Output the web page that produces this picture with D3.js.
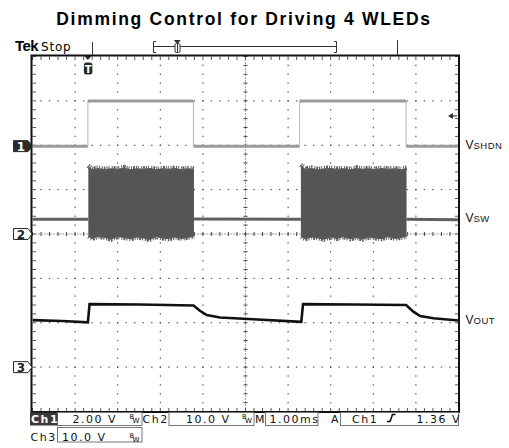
<!DOCTYPE html>
<html>
<head>
<meta charset="utf-8">
<script src="https://cdn.jsdelivr.net/npm/d3@7"></script>
<style>
  body { margin: 0; background: #fff; }
  svg text { font-family: "DejaVu Sans", sans-serif; }
</style>
</head>
<body>
<svg id="chart" width="509" height="448"></svg>
<script>
// time is in ms from the left edge of the screen (1.00 ms/div)
var shdnTime  = [0, 1.30, 1.30, 3.78, 3.78, 6.27, 6.27, 8.77, 8.77, 10];
var shdnVolts = [0, 0, 2.04, 2.04, 0, 0, 2.04, 2.04, 0, 0];

// Vsw when the converter is idle (null = gap)
var swIdleTime  = [0, 1.31, null, 3.79, 6.30, null, 8.78, 10];
var swIdleVolts = [3.3, 3.3, null, 3.4, 3.3, null, 3.3, 3.2];

// switching bursts, envelope of the waveform
var burst1Time = [1.31, 1.40, 1.55, 1.70, 1.85, 2.00, 2.15, 2.30, 2.45, 2.60, 2.75, 2.90, 3.05, 3.20, 3.35, 3.50, 3.65, 3.79];
var burst1High = [15.4, 14.6, 14.9, 14.6, 14.8, 14.7, 15.0, 14.6, 14.8, 14.7, 14.9, 14.6, 14.8, 14.7, 14.9, 14.6, 14.8, 14.7];
var burst1Low  = [-0.6, -1.1, -0.7, -0.9, -1.3, -0.7, -0.9, -1.2, -0.8, -1.0, -1.4, -0.7, -1.0, -1.2, -0.8, -1.1, -0.9, -0.6];
var burst2Time = [6.30, 6.40, 6.55, 6.70, 6.85, 7.00, 7.15, 7.30, 7.45, 7.60, 7.75, 7.90, 8.05, 8.20, 8.35, 8.50, 8.65, 8.78];
var burst2High = [15.6, 14.7, 14.9, 14.6, 14.8, 14.9, 14.7, 14.8, 14.6, 14.9, 14.7, 14.8, 14.6, 14.9, 14.7, 14.8, 14.6, 14.9];
var burst2Low  = [-0.7, -1.2, -0.8, -1.0, -1.3, -0.8, -1.1, -0.7, -1.2, -0.9, -1.3, -0.8, -1.0, -1.2, -0.7, -1.1, -0.9, -0.7];

var outTime  = [0, 0.70, 1.30, 1.34, 2.50, 3.78, 3.93, 4.09, 4.40, 5.18, 6.20, 6.31, 6.35, 7.50, 8.77, 8.94, 9.10, 9.41, 10];
var outVolts = [10.6, 10.4, 10.1, 14.2, 14.1, 13.9, 12.7, 11.75, 11.2, 10.8, 10.25, 10.2, 14.2, 14.1, 14.0, 12.5, 11.5, 11.0, 10.5];

var traceNames = [["V", "SHDN"], ["V", "SW"], ["V", "OUT"]];
var statusRow1 = ["2.00 V", "Ch2", "10.0 V", "M", "1.00ms", "A", "Ch1", "1.36 V"];
var statusRow2 = ["Ch3", "10.0 V"];
var titleText = "Dimming Control for Driving 4 WLEDs";
var trigLevel = 1.36;

var svg = d3.select("#chart");
var x = d3.scaleLinear().domain([0, 10]).range([32.5, 458.5]);
var yDiv = d3.scaleLinear().domain([-4, 4]).range([411.5, 56.5]);

var ch1 = {pos: 1.98, vdiv: 2}, ch2 = {pos: 0, vdiv: 10}, ch3 = {pos: -3, vdiv: 10};
function chanY(ch) { return function (v) { return yDiv(ch.pos + v / ch.vdiv); }; }
var y1 = chanY(ch1), y2 = chanY(ch2), y3 = chanY(ch3);

function zipPts(ts, vs) { return ts.map(function (t, i) { return {t: t, v: vs[i]}; }); }

svg.append("text")
  .attr("x", 244).attr("y", 25)
  .attr("text-anchor", "middle")
  .style("font-family", "'Liberation Sans', Arial, sans-serif")
  .style("font-weight", "bold").style("font-size", "17.5px").style("letter-spacing", "1.7px")
  .text(titleText);

// ---- graticule
var g = svg.append("g");
var minorX = d3.range(51).map(function (i) { return i * 0.2; });
var minorY = d3.range(41).map(function (i) { return -4 + i * 0.2; });

[1, 2, 3, 4, 6, 7, 8, 9].forEach(function (k) {
  g.selectAll(null).data(minorY.slice(1, -1)).enter().append("rect")
    .attr("x", x(k) - 0.5).attr("y", d => yDiv(d) - 0.7)
    .attr("width", 1).attr("height", 1.4).attr("fill", "#3a3a3a");
});
[-3, -2, -1, 1, 2, 3].forEach(function (k) {
  g.selectAll(null).data(minorX.slice(1, -1)).enter().append("rect")
    .attr("x", d => x(d) - 0.7).attr("y", yDiv(k) - 0.5)
    .attr("width", 1.4).attr("height", 1).attr("fill", "#3a3a3a");
});

// centre lines with ticks
g.append("line").attr("x1", x(5)).attr("x2", x(5)).attr("y1", yDiv(-4)).attr("y2", yDiv(4))
  .attr("stroke", "#444").attr("stroke-dasharray", "1,2");
g.append("line").attr("x1", x(0)).attr("x2", x(10)).attr("y1", yDiv(0)).attr("y2", yDiv(0))
  .attr("stroke", "#444").attr("stroke-dasharray", "1,2");
g.selectAll(null).data(minorY).enter().append("line")
  .attr("x1", x(5) - 2).attr("x2", x(5) + 2).attr("y1", d => yDiv(d)).attr("y2", d => yDiv(d))
  .attr("stroke", "#444");
g.selectAll(null).data(minorX).enter().append("line")
  .attr("x1", d => x(d)).attr("x2", d => x(d)).attr("y1", yDiv(0) - 2).attr("y2", yDiv(0) + 2)
  .attr("stroke", "#444");

// ticks along the frame
g.selectAll(null).data(minorX).enter().append("line")
  .attr("x1", d => x(d)).attr("x2", d => x(d)).attr("y1", yDiv(4)).attr("y2", yDiv(4) + 3.5)
  .attr("stroke", "#555");
g.selectAll(null).data(minorX).enter().append("line")
  .attr("x1", d => x(d)).attr("x2", d => x(d)).attr("y1", yDiv(-4)).attr("y2", yDiv(-4) - 3.5)
  .attr("stroke", "#555");
g.selectAll(null).data(minorY).enter().append("line")
  .attr("x1", x(0)).attr("x2", x(0) + 3.5).attr("y1", d => yDiv(d)).attr("y2", d => yDiv(d))
  .attr("stroke", "#555");
g.selectAll(null).data(minorY).enter().append("line")
  .attr("x1", x(10)).attr("x2", x(10) - 3.5).attr("y1", d => yDiv(d)).attr("y2", d => yDiv(d))
  .attr("stroke", "#555");

// ---- traces
svg.append("clipPath").attr("id", "screen").append("rect")
  .attr("x", x(0)).attr("y", yDiv(4)).attr("width", x(10) - x(0)).attr("height", yDiv(-4) - yDiv(4));
var tr = svg.append("g").attr("clip-path", "url(#screen)");

// Ch1: thick on the flat parts, thin on the edges
var shdn = zipPts(shdnTime, shdnVolts);
tr.selectAll(null).data(d3.pairs(shdn)).enter().append("line")
  .attr("x1", d => x(d[0].t)).attr("y1", d => y1(d[0].v))
  .attr("x2", d => x(d[1].t)).attr("y2", d => y1(d[1].v))
  .attr("stroke", d => d[0].v === d[1].v ? "#9a9a9a" : "#b4b4b4")
  .attr("stroke-width", d => d[0].v === d[1].v ? 3 : 1);

// Ch2
var idle = zipPts(swIdleTime, swIdleVolts);
tr.append("path").datum(idle)
  .attr("d", d3.line().defined(d => d.t != null).x(d => x(d.t)).y(d => y2(d.v)))
  .attr("fill", "none").attr("stroke", "#606060").attr("stroke-width", 3);

[[burst1Time, burst1High, burst1Low], [burst2Time, burst2High, burst2Low]].forEach(function (b) {
  var pts = b[0].map(function (t, i) { return {t: t, hi: b[1][i], lo: b[2][i]}; });
  tr.append("path").datum(pts)
    .attr("d", d3.area().x(d => x(d.t)).y0(d => y2(d.lo)).y1(d => y2(d.hi)))
    .attr("fill", "#555");
  // ragged edges of the switching burst
  tr.append("path").datum(pts)
    .attr("d", d3.line().x(d => x(d.t)).y(d => y2(d.hi)))
    .attr("fill", "none").attr("stroke", "#5c5c5c").attr("stroke-width", 5)
    .attr("stroke-dasharray", "1,1,1,2,1,1,2,1");
  tr.append("path").datum(pts)
    .attr("d", d3.line().x(d => x(d.t)).y(d => y2(d.lo)))
    .attr("fill", "none").attr("stroke", "#5c5c5c").attr("stroke-width", 4)
    .attr("stroke-dasharray", "1,2,1,1,2,1");
});

// Ch3
tr.append("path").datum(zipPts(outTime, outVolts))
  .attr("d", d3.line().x(d => x(d.t)).y(d => y3(d.v)))
  .attr("fill", "none").attr("stroke", "#111").attr("stroke-width", 2.6);

// frame
svg.append("rect").attr("x", 31.5).attr("y", 55.5).attr("width", 427.5).attr("height", 356.5)
  .attr("fill", "none").attr("stroke", "#111").attr("stroke-width", 2);

// ---- markers
var trigX = x(shdnTime[1]);
svg.append("path").attr("d", "M" + (trigX - 3.5) + ",56 L" + (trigX + 3.5) + ",56 L" + trigX + ",60 Z").attr("fill", "#222");
svg.append("rect").attr("x", trigX - 4).attr("y", 62.5).attr("width", 8.5).attr("height", 12)
  .attr("rx", 2.5).attr("fill", "#2a2a2a");
svg.append("text").attr("x", trigX + 0.3).attr("y", 72.5).attr("text-anchor", "middle")
  .style("font-size", "10px").style("font-weight", "bold").attr("fill", "#fff").text("T");

// trigger level arrow on the right
var tly = y1(trigLevel);
svg.append("path").attr("d", "M448,"+tly+" L453," + (tly - 3) + " L453," + (tly + 3) + " Z").attr("fill", "#333");
svg.append("line").attr("x1", 452).attr("x2", 457).attr("y1", tly).attr("y2", tly).attr("stroke", "#333").attr("stroke-width", 1.2);

// channel ground markers
[[ch1, "1", true], [ch2, "2", false], [ch3, "3", false]].forEach(function (m) {
  var cy = yDiv(m[0].pos);
  svg.append("path")
    .attr("d", "M13.5," + (cy - 5.5) + " L28," + (cy - 5.5) + " L32," + cy + " L28," + (cy + 5.5) + " L13.5," + (cy + 5.5) + " Z")
    .attr("fill", m[2] ? "#2b2b2b" : "#fff").attr("stroke", "#2b2b2b").attr("stroke-width", 1);
  svg.append("text").attr("x", 21).attr("y", cy + 4.5).attr("text-anchor", "middle")
    .style("font-size", "12px").style("font-weight", "bold")
    .attr("fill", m[2] ? "#fff" : "#222").text(m[1]);
});

// trace names on the right
var nameY = [y1(0) + 2.5, y2(swIdleVolts[0]) + 3, y3(outVolts[outVolts.length - 1]) + 3.5];
traceNames.forEach(function (n, i) {
  var t = svg.append("text").attr("x", 465.5).attr("y", nameY[i])
    .style("font-family", "'Liberation Sans', Arial, sans-serif").attr("fill", "#111");
  t.append("tspan").style("font-size", "12px").text(n[0]);
  t.append("tspan").style("font-size", "9.5px").style("letter-spacing", "0.5px").text(n[1]);
});

// ---- header
svg.append("text").attr("x", 15).attr("y", 51)
  .style("font-family", "'Liberation Sans', Arial, sans-serif")
  .style("font-weight", "bold").style("font-size", "15px").style("letter-spacing", "-0.6px").text("Tek");
svg.append("text").attr("x", 41).attr("y", 51).style("font-size", "12px").style("letter-spacing", "0.8px").text("Stop");
var hdr = svg.append("g").attr("stroke", "#333").attr("fill", "none");
hdr.append("line").attr("x1", 92.5).attr("x2", 92.5).attr("y1", 42).attr("y2", 55);
hdr.append("line").attr("x1", 397.5).attr("x2", 397.5).attr("y1", 40).attr("y2", 55);
hdr.append("path").attr("d", "M156,41.5 H153.5 V52.5 H156 M334,41.5 H336.5 V52.5 H334 M153.5,46.5 H336.5");
hdr.append("path").attr("d", "M174.5,40.5 H180 L177.3,43.5 Z").attr("fill", "#333");
hdr.append("rect").attr("x", 175).attr("y", 43.5).attr("width", 5).attr("height", 9).attr("rx", 1.5).attr("fill", "#fff");
hdr.append("line").attr("x1", 177.5).attr("x2", 177.5).attr("y1", 44).attr("y2", 52);

// ---- status bar
var sb = svg.append("g").style("font-size", "11px").style("letter-spacing", "1.5px");
var boxes = [[57.5, 142], [169, 254], [265.5, 318], [340.5, 458.5]];
boxes.forEach(function (b) {
  sb.append("rect").attr("x", b[0]).attr("y", 412.5).attr("width", b[1] - b[0]).attr("height", 13)
    .attr("fill", "none").attr("stroke", "#777");
});
sb.append("rect").attr("x", 57.5).attr("y", 427.5).attr("width", 84.5).attr("height", 14.5)
  .attr("fill", "none").attr("stroke", "#777");
sb.append("rect").attr("x", 30).attr("y", 412.5).attr("width", 27.5).attr("height", 13).attr("fill", "#3a3a3a");
sb.append("text").attr("x", 31).attr("y", 422.5).attr("fill", "#fff").style("font-weight", "bold").text("Ch1");

var row1X = [72.5, 142.5, 186, 255, 269.5, 331, 352, 416.5];
statusRow1.forEach(function (s, i) {
  sb.append("text").attr("x", row1X[i]).attr("y", 422.5).attr("fill", "#111").text(s);
});
var row2X = [30.5, 62];
statusRow2.forEach(function (s, i) {
  sb.append("text").attr("x", row2X[i]).attr("y", 441).attr("fill", "#111").text(s);
});
// bandwidth-limit marks
[[129.5, 418.5], [242, 418.5], [129.5, 437.5]].forEach(function (p) {
  sb.append("text").attr("x", p[0]).attr("y", p[1]).style("font-size", "6.5px").style("letter-spacing", "0").text("B");
  sb.append("text").attr("x", p[0] + 3).attr("y", p[1] + 4).style("font-size", "7px").style("letter-spacing", "0").text("W");
});
// rising edge symbol
sb.append("path").attr("d", "M387,421.5 H390 L392.5,414.5 H395.5")
  .attr("fill", "none").attr("stroke", "#111").attr("stroke-width", 1.6);
</script>
</body>
</html>
